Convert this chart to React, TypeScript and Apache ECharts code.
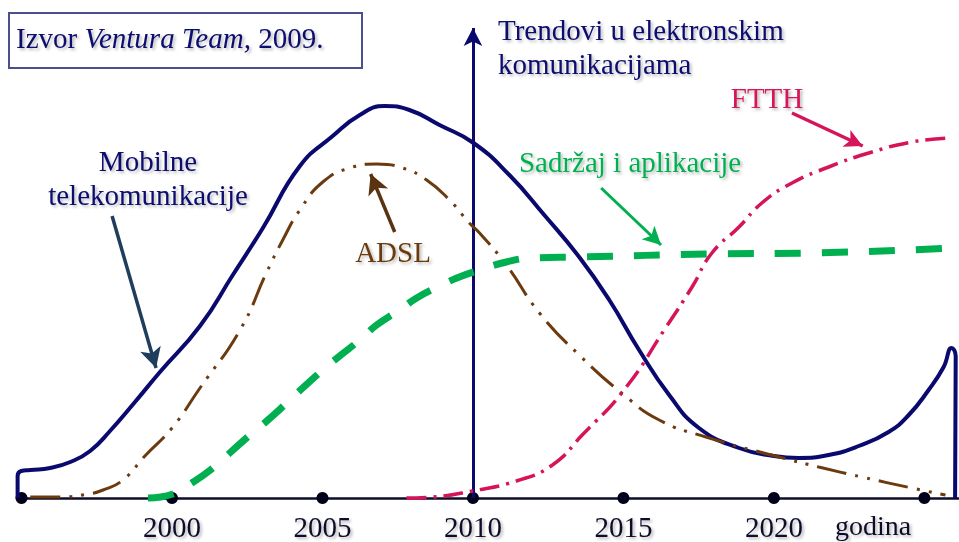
import React, { useEffect, useRef } from "react";
import * as echarts from "echarts";

// ---- data (x: year, y: relative intensity) ----
const axisDotYears = [1995, 2000, 2005, 2010, 2015, 2020, 2025];
const tickLabelYears = [2000, 2005, 2010, 2015, 2020];

const mobilne: [number, number][] = [
  [1994.87, 0], [1994.87, 22], [1994.99, 27], [1995.29, 28], [1995.95, 30], [1996.62, 36],
  [1997.28, 47], [1997.94, 67], [1998.77, 96], [1999.6, 126], [2000.93, 172], [2002.02, 223],
  [2003.02, 270], [2004.25, 332], [2005.34, 362], [2006.24, 383], [2007.06, 392], [2007.89, 388],
  [2008.89, 373], [2010.02, 355], [2011.21, 323], [2012.37, 283], [2013.53, 241], [2014.53, 198],
  [2015.52, 148], [2016.52, 103], [2017.51, 70], [2018.84, 50], [2020.0, 42], [2020.83, 40],
  [2021.82, 43], [2022.82, 52], [2023.81, 66], [2024.48, 83], [2025.14, 108], [2025.64, 131],
  [2025.9, 150], [2026.04, 142], [2026.02, 0],
];

const adsl: [number, number][] = [
  [1995.29, 1], [1996.29, 1], [1997.21, 4], [1997.71, 8], [1998.37, 18], [1999.1, 42],
  [2000.0, 70], [2000.93, 110], [2002.26, 168], [2003.15, 226], [2003.68, 258], [2004.25, 288],
  [2005.01, 316], [2005.9, 330], [2006.8, 334], [2007.66, 330], [2008.46, 318], [2009.22, 298],
  [2009.88, 275], [2010.22, 265], [2011.11, 233], [2012.21, 185], [2013.53, 143], [2015.02, 103],
  [2016.19, 78], [2017.74, 61], [2020.17, 41], [2021.49, 31], [2022.92, 21], [2024.58, 10],
  [2025.7, 3],
];

const sadrzaj: [number, number][] = [
  [1999.2, 0], [2000.03, 4], [2000.66, 15], [2001.36, 30], [2001.92, 45], [2002.59, 63],
  [2003.15, 77], [2003.81, 95], [2004.34, 110], [2005.01, 128], [2005.57, 142], [2006.24, 158],
  [2006.8, 173], [2007.56, 188], [2008.13, 200], [2008.89, 212], [2009.55, 221], [2010.22, 228],
  [2011.11, 236], [2011.97, 240], [2013.53, 241], [2017.94, 244], [2021.26, 245], [2025.9, 250],
];

const ftth: [number, number][] = [
  [2007.79, 0], [2008.66, 1], [2009.98, 7], [2011.44, 17], [2012.64, 33], [2013.63, 63],
  [2015.02, 108], [2016.42, 171], [2017.28, 211], [2017.94, 245], [2018.84, 271], [2019.6, 295],
  [2020.6, 315], [2021.82, 331], [2023.15, 345], [2024.58, 356], [2025.8, 360],
];

// annotation arrows [tail, tip] in data coordinates
const mobilneArrow: [number, number][] = [[1998.01, 282], [1999.47, 130]];
const adslArrow: [number, number][] = [[2007.4, 266], [2006.6, 324]];
const sadrzajArrow: [number, number][] = [[2014.26, 310], [2016.25, 253]];
const ftthArrow: [number, number][] = [[2020.6, 385], [2022.95, 352]];
const verticalAxis: [number, number][] = [[2010, 0], [2010, 470]];

const SERIF = "'Liberation Serif', 'Times New Roman', serif";
const NAVY = "#0a0a6e";
const BROWN = "#6b3a0f";
const GREEN = "#00b050";
const PINK = "#d6145a";

const shadow = {
  textShadowColor: "rgba(0,0,0,0.28)",
  textShadowBlur: 3,
  textShadowOffsetX: 2,
  textShadowOffsetY: 2,
};

function arrowLine(pts: [number, number][], color: string, width: number, size: number[]) {
  return {
    silent: true,
    animation: false,
    symbol: ["none", "arrow"],
    symbolSize: size,
    label: { show: false },
    emphasis: { disabled: true },
    lineStyle: { color, width, type: "solid" },
    data: [[{ coord: pts[0] }, { coord: pts[1] }]],
  };
}

function txt(text: string, x: number, y: number, color: string, align = "center", size = 29) {
  return {
    type: "text",
    x,
    y,
    z: 100,
    style: {
      text,
      fill: color,
      font: `${size}px ${SERIF}`,
      align,
      verticalAlign: "middle",
      ...shadow,
    },
  };
}

export default function App() {
  const ref = useRef<HTMLDivElement>(null);
  useEffect(() => {
    if (!ref.current) return;
    const chart = echarts.init(ref.current, null, { renderer: "svg" });
    const option = {
      animation: false,
      backgroundColor: "#ffffff",
      grid: { left: 17, right: 0, top: 18, bottom: 44 },
      xAxis: {
        type: "value",
        min: 1994.85,
        max: 2026.15,
        splitLine: { show: false },
        axisTick: { show: false },
        axisLine: { show: true, onZero: false, lineStyle: { color: "#0d0d2b", width: 2.5 } },
        axisLabel: {
          customValues: tickLabelYears,
          formatter: (v: number) => String(v),
          fontFamily: SERIF,
          fontSize: 29,
          color: "#0d0d2b",
          margin: 14,
          ...shadow,
        },
      },
      yAxis: { type: "value", min: 0, max: 480, show: false },
      series: [
        {
          type: "scatter",
          data: axisDotYears.map((y) => [y, 0]),
          symbolSize: 12,
          itemStyle: { color: "#00001a", opacity: 1 },
          silent: true,
          z: 2,
          markLine: arrowLine(verticalAxis, NAVY, 3, [14, 18]),
        },
        {
          type: "line",
          name: "Mobilne telekomunikacije",
          data: mobilne,
          smooth: 0.5,
          showSymbol: false,
          symbol: "none",
          clip: false,
          lineStyle: { color: NAVY, width: 4 },
          z: 5,
          markLine: arrowLine(mobilneArrow, "#1f3d5c", 3.5, [16, 20]),
        },
        {
          type: "line",
          name: "ADSL",
          data: adsl,
          smooth: 0.5,
          symbol: "none",
          clip: false,
          lineStyle: { color: BROWN, width: 3, type: [30, 9, 3, 9, 3, 9] },
          z: 6,
          markLine: arrowLine(adslArrow, "#5c3310", 3.5, [16, 20]),
        },
        {
          type: "line",
          name: "Sadržaj i aplikacije",
          data: sadrzaj,
          smooth: 0.5,
          symbol: "none",
          clip: false,
          lineStyle: { color: GREEN, width: 7, type: [26, 21], cap: "butt" },
          z: 7,
          markLine: arrowLine(sadrzajArrow, GREEN, 3, [14, 18]),
        },
        {
          type: "line",
          name: "FTTH",
          data: ftth,
          smooth: 0.5,
          symbol: "none",
          clip: false,
          lineStyle: { color: PINK, width: 3.5, type: [20, 7, 3, 7] },
          z: 8,
          markLine: arrowLine(ftthArrow, PINK, 3.5, [14, 18]),
        },
      ],
      graphic: [
        {
          type: "rect",
          shape: { x: 9, y: 13, width: 353, height: 55 },
          style: { fill: "#ffffff", stroke: "#4d4d92", lineWidth: 2 },
          z: 99,
        },
        {
          type: "text",
          x: 16,
          y: 38,
          z: 100,
          style: {
            text: "{a|Izvor }{b|Ventura Team,}{a| 2009.}",
            fill: NAVY,
            font: `29px ${SERIF}`,
            verticalAlign: "middle",
            rich: {
              a: { fontFamily: SERIF, fontSize: 29, fill: NAVY, ...shadow },
              b: { fontFamily: SERIF, fontSize: 29, fontStyle: "italic", fill: NAVY, ...shadow },
            },
          },
        },
        txt("Trendovi u elektronskim", 498, 30, NAVY, "left"),
        txt("komunikacijama", 498, 64, NAVY, "left"),
        txt("Mobilne", 148, 161, NAVY),
        txt("telekomunikacije", 148, 195, NAVY),
        txt("ADSL", 393, 252, BROWN),
        txt("Sadržaj i aplikacije", 630, 162, GREEN),
        txt("FTTH", 767, 98, PINK),
        txt("godina", 873, 525, "#0d0d2b", "center", 28),
      ],
    };
    chart.setOption(option as any);
    return () => chart.dispose();
  }, []);
  return <div ref={ref} style={{ width: 959, height: 542, position: "absolute", left: 0, top: 0 }} />;
}
